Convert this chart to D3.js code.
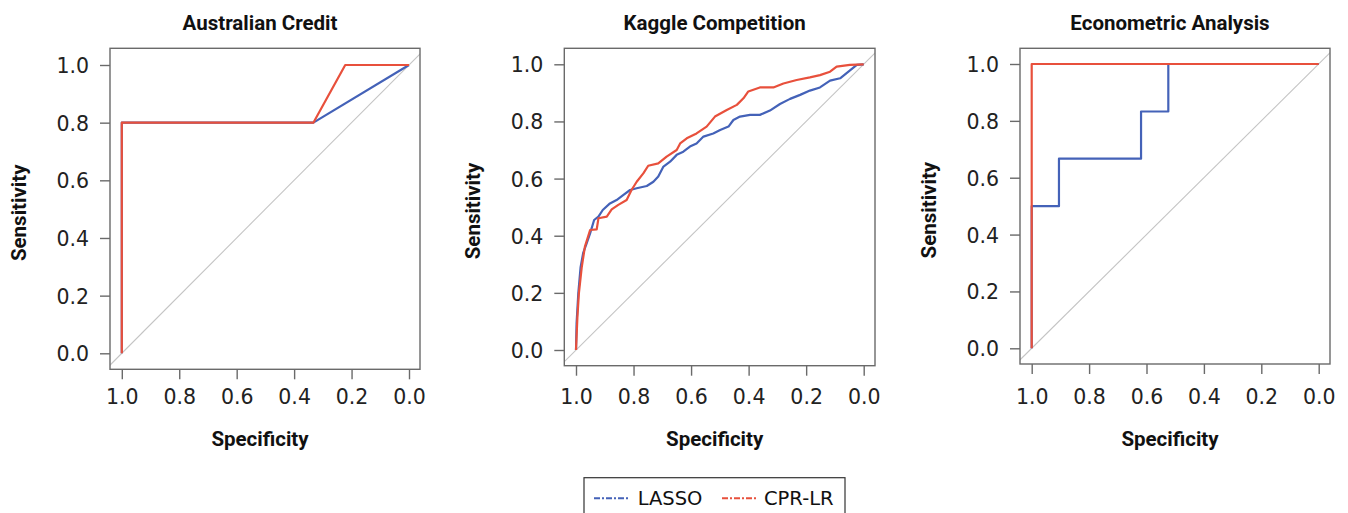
<!DOCTYPE html>
<html>
<head>
<meta charset="utf-8">
<script src="https://cdn.jsdelivr.net/npm/d3@7"></script>
<style>
  html, body { margin: 0; padding: 0; background: #fff; }
  svg { display: block; }
</style>
</head>
<body>
<svg id="chart" width="1348" height="513"></svg>
<script>
// ---------------- DATA ----------------
const panelTitles = ["Australian Credit", "Kaggle Competition", "Econometric Analysis"];
const seriesNames = ["LASSO", "CPR-LR"];
const tickValues = [0, 0.2, 0.4, 0.6, 0.8, 1.0];
const tickLabels = ["0.0", "0.2", "0.4", "0.6", "0.8", "1.0"];

// [specificity, sensitivity]
const australianLasso = [[1, 0], [1, 0.8], [0.333, 0.8], [0, 1]];
const australianCpr   = [[1, 0], [1, 0.8], [0.333, 0.8], [0.222, 1], [0, 1]];

const kaggleLasso = [
  [1, 0], [0.998, 0.093], [0.992, 0.198], [0.984, 0.29], [0.975, 0.34], [0.963, 0.373],
  [0.951, 0.408], [0.937, 0.455], [0.922, 0.467], [0.907, 0.49], [0.882, 0.513],
  [0.859, 0.525], [0.835, 0.543], [0.812, 0.56], [0.789, 0.566], [0.754, 0.574],
  [0.731, 0.589], [0.714, 0.607], [0.696, 0.642], [0.673, 0.659], [0.65, 0.683],
  [0.627, 0.694], [0.604, 0.712], [0.581, 0.723], [0.557, 0.747], [0.523, 0.758],
  [0.499, 0.77], [0.47, 0.782], [0.453, 0.805], [0.43, 0.817], [0.395, 0.823],
  [0.361, 0.823], [0.326, 0.838], [0.291, 0.861], [0.256, 0.879], [0.221, 0.893],
  [0.187, 0.908], [0.152, 0.919], [0.117, 0.943], [0.082, 0.951], [0.053, 0.974],
  [0.024, 0.998], [0, 1]
];
const kaggleCpr = [
  [1, 0], [0.995, 0.117], [0.99, 0.198], [0.98, 0.29], [0.969, 0.362], [0.951, 0.42],
  [0.928, 0.422], [0.922, 0.461], [0.893, 0.467], [0.876, 0.492], [0.853, 0.508],
  [0.824, 0.525], [0.807, 0.56], [0.789, 0.589], [0.766, 0.618], [0.749, 0.645],
  [0.714, 0.653], [0.685, 0.677], [0.65, 0.7], [0.638, 0.723], [0.615, 0.741],
  [0.581, 0.758], [0.546, 0.782], [0.517, 0.817], [0.476, 0.84], [0.441, 0.858],
  [0.418, 0.881], [0.401, 0.905], [0.361, 0.919], [0.314, 0.919], [0.279, 0.933],
  [0.233, 0.945], [0.187, 0.954], [0.152, 0.962], [0.117, 0.974], [0.094, 0.992],
  [0.048, 0.998], [0, 1]
];

const econLasso = [[1, 0], [1, 0.5], [0.905, 0.5], [0.905, 0.667], [0.619, 0.667],
  [0.619, 0.833], [0.524, 0.833], [0.524, 1], [0, 1]];
const econCpr = [[1, 0], [1, 1], [0, 1]];

const panelSeries = [
  [australianLasso, australianCpr],
  [kaggleLasso, kaggleCpr],
  [econLasso, econCpr]
];

// ---------------- LAYOUT / STYLE ----------------
const colors = ["#4462B8", "#E8503C"];
const layout = [
  { bx0: 110,   bx1: 420,  by0: 48.3, by1: 369.3, xs1: 121.8, xs0: 409,   ys0: 353.3, ys1: 65 },
  { bx0: 564.3, bx1: 875,  by0: 48.3, by1: 365.7, xs1: 576,   xs0: 863.7, ys0: 350,   ys1: 64.3 },
  { bx0: 1020,  bx1: 1330, by0: 48.3, by1: 364,   xs1: 1031.7, xs0: 1318.7, ys0: 348.3, ys1: 64 }
];

const svg = d3.select("#chart");
const tickFont = "'DejaVu Sans', sans-serif";
const boldFont = "Roboto, 'DejaVu Sans', sans-serif";
const boldSize = 20.5;

layout.forEach((L, i) => {
  const x = d3.scaleLinear().domain([1, 0]).range([L.xs1, L.xs0]);
  const y = d3.scaleLinear().domain([0, 1]).range([L.ys0, L.ys1]);
  const g = svg.append("g");

  const clipId = "clip" + i;
  svg.append("clipPath").attr("id", clipId)
    .append("rect").attr("x", L.bx0).attr("y", L.by0)
    .attr("width", L.bx1 - L.bx0).attr("height", L.by1 - L.by0);

  const plot = g.append("g").attr("clip-path", `url(#${clipId})`);

  // diagonal reference line
  plot.append("line")
    .attr("x1", x(1.2)).attr("y1", y(-0.2))
    .attr("x2", x(-0.2)).attr("y2", y(1.2))
    .attr("stroke", "#c4c4c4").attr("stroke-width", 1.1);

  const line = d3.line().x(d => x(d[0])).y(d => y(d[1]));
  panelSeries[i].forEach((data, s) => {
    plot.append("path").datum(data)
      .attr("d", line)
      .attr("fill", "none")
      .attr("stroke", colors[s])
      .attr("stroke-width", 2.2)
      .attr("stroke-linejoin", "round");
  });

  // box
  g.append("rect")
    .attr("x", L.bx0).attr("y", L.by0)
    .attr("width", L.bx1 - L.bx0).attr("height", L.by1 - L.by0)
    .attr("fill", "none").attr("stroke", "#6a6a6a").attr("stroke-width", 1.4);

  // x axis
  const xAxis = d3.axisBottom(x).tickValues(tickValues.slice().reverse())
    .tickFormat((d) => tickLabels[tickValues.indexOf(d)])
    .tickSize(10).tickPadding(0);
  const xg = g.append("g").attr("transform", `translate(0,${L.by1})`).call(xAxis);
  xg.select(".domain").remove();
  xg.selectAll(".tick line").attr("stroke", "#6a6a6a").attr("stroke-width", 1.4);
  xg.selectAll(".tick text")
    .attr("y", 404 - L.by1).attr("dy", null)
    .attr("font-family", tickFont).attr("font-size", 20.5).attr("fill", "#222");

  // y axis
  const yAxis = d3.axisLeft(y).tickValues(tickValues)
    .tickFormat((d) => tickLabels[tickValues.indexOf(d)])
    .tickSize(10).tickPadding(0);
  const yg = g.append("g").attr("transform", `translate(${L.bx0},0)`).call(yAxis);
  yg.select(".domain").remove();
  yg.selectAll(".tick line").attr("stroke", "#6a6a6a").attr("stroke-width", 1.4);
  yg.selectAll(".tick text")
    .attr("x", -21).attr("dy", null).attr("y", 7.5)
    .attr("font-family", tickFont).attr("font-size", 20.5).attr("fill", "#222");

  const cx = (L.bx0 + L.bx1) / 2 - 5;
  // title
  g.append("text").attr("x", cx).attr("y", 30)
    .attr("text-anchor", "middle")
    .attr("font-family", boldFont).attr("font-weight", "bold").attr("font-size", boldSize)
    .attr("fill", "#111").text(panelTitles[i]);
  // x label
  g.append("text").attr("x", cx).attr("y", 446)
    .attr("text-anchor", "middle")
    .attr("font-family", boldFont).attr("font-weight", "bold").attr("font-size", boldSize)
    .attr("fill", "#111").text("Specificity");
  // y label
  const ly = (L.by0 + L.by1) / 2 + 4;
  g.append("text")
    .attr("transform", `translate(${L.bx0 - 84},${ly}) rotate(-90)`)
    .attr("text-anchor", "middle")
    .attr("font-family", boldFont).attr("font-weight", "bold").attr("font-size", boldSize)
    .attr("fill", "#111").text("Sensitivity");
});

// legend
const leg = svg.append("g");
leg.append("rect").attr("x", 584).attr("y", 477.7).attr("width", 261).attr("height", 44)
  .attr("fill", "#fff").attr("stroke", "#333").attr("stroke-width", 1.2);
const legItems = [
  { lx: 594, tx: 637.7 },
  { lx: 722, tx: 764 }
];
seriesNames.forEach((name, s) => {
  leg.append("line")
    .attr("x1", legItems[s].lx).attr("x2", legItems[s].lx + 34)
    .attr("y1", 498.3).attr("y2", 498.3)
    .attr("stroke", colors[s]).attr("stroke-width", 2)
    .attr("stroke-dasharray", "6,2,2,2");
  leg.append("text").attr("x", legItems[s].tx).attr("y", 504.5)
    .attr("font-family", tickFont).attr("font-size", 19.5).attr("fill", "#111")
    .text(name);
});
</script>
</body>
</html>
